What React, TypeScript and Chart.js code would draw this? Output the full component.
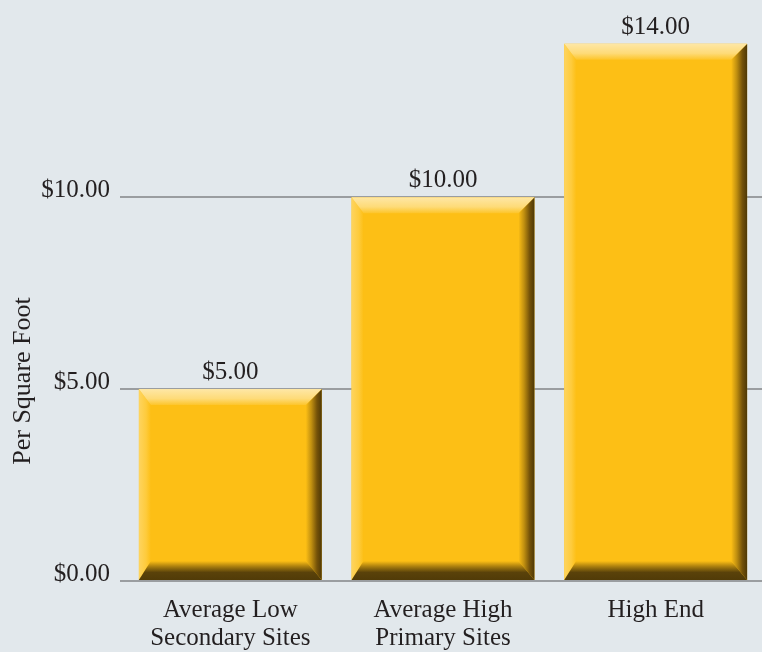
import React, { useEffect, useRef } from 'react';
import { Chart, registerables } from 'chart.js';

Chart.register(...registerables);

const categories: string[][] = [
  ['Average Low', 'Secondary Sites'],
  ['Average High', 'Primary Sites'],
  ['High End'],
];
const values: number[] = [5, 10, 14];
const yTickValues: number[] = [0, 5, 10];
const yTitle = 'Per Square Foot';

const FONT = '"Liberation Serif", "Times New Roman", serif';
const TEXT = '#231f20';
const BG = '#e2e8ec';
const GOLD = '#fdbf15';
const GRID = '#9a9da0';

const fmt = (v: number) => '$' + v.toFixed(2);

const bevelPlugin = {
  id: 'bevel',
  afterDatasetsDraw(chart: any) {
    const ctx: CanvasRenderingContext2D = chart.ctx;
    const meta = chart.getDatasetMeta(0);
    meta.data.forEach((el: any, i: number) => {
      const { x, y, base, width } = el.getProps(['x', 'y', 'base', 'width'], true);
      const x0 = x - width / 2;
      const x1 = x + width / 2;
      const bl = 12, br = 16, bt = 16, bb = 19;
      ctx.save();
      // left
      let g = ctx.createLinearGradient(x0, 0, x0 + bl, 0);
      g.addColorStop(0, '#fed45f');
      g.addColorStop(0.6, '#fecb3c');
      g.addColorStop(1, GOLD);
      ctx.fillStyle = g;
      ctx.beginPath();
      ctx.moveTo(x0, y);
      ctx.lineTo(x0 + bl, y + bt);
      ctx.lineTo(x0 + bl, base - bb);
      ctx.lineTo(x0, base);
      ctx.closePath();
      ctx.fill();
      // right
      g = ctx.createLinearGradient(x1 - br, 0, x1, 0);
      g.addColorStop(0, GOLD);
      g.addColorStop(0.35, '#c08f10');
      g.addColorStop(0.7, '#745209');
      g.addColorStop(1, '#4e3806');
      ctx.fillStyle = g;
      ctx.beginPath();
      ctx.moveTo(x1, y);
      ctx.lineTo(x1, base);
      ctx.lineTo(x1 - br, base - bb);
      ctx.lineTo(x1 - br, y + bt);
      ctx.closePath();
      ctx.fill();
      // bottom
      g = ctx.createLinearGradient(0, base - bb, 0, base);
      g.addColorStop(0, GOLD);
      g.addColorStop(0.3, '#a77c0e');
      g.addColorStop(0.6, '#5a420a');
      g.addColorStop(1, '#513b08');
      ctx.fillStyle = g;
      ctx.beginPath();
      ctx.moveTo(x0, base);
      ctx.lineTo(x1, base);
      ctx.lineTo(x1 - br, base - bb);
      ctx.lineTo(x0 + bl, base - bb);
      ctx.closePath();
      ctx.fill();
      // top
      g = ctx.createLinearGradient(0, y, 0, y + bt);
      g.addColorStop(0, '#fee7a6');
      g.addColorStop(0.6, '#fedb78');
      g.addColorStop(1, '#fdc52a');
      ctx.fillStyle = g;
      ctx.beginPath();
      ctx.moveTo(x0, y);
      ctx.lineTo(x1, y);
      ctx.lineTo(x1 - br, y + bt);
      ctx.lineTo(x0 + bl, y + bt);
      ctx.closePath();
      ctx.fill();
      // value label
      ctx.fillStyle = TEXT;
      ctx.font = `25px ${FONT}`;
      ctx.textAlign = 'center';
      ctx.textBaseline = 'alphabetic';
      ctx.fillText(fmt(values[i]), x, y - 10);
      ctx.restore();
    });
  },
  afterDraw(chart: any) {
    const ctx: CanvasRenderingContext2D = chart.ctx;
    ctx.save();
    ctx.translate(23, 381);
    ctx.rotate(-Math.PI / 2);
    ctx.fillStyle = TEXT;
    ctx.font = `26px ${FONT}`;
    ctx.textAlign = 'center';
    ctx.textBaseline = 'middle';
    ctx.fillText(yTitle, 0, 0);
    ctx.restore();
  },
};

export default function App() {
  const ref = useRef<HTMLCanvasElement>(null);
  useEffect(() => {
    document.body.style.margin = '0';
    document.body.style.background = BG;
    const chart = new Chart(ref.current as HTMLCanvasElement, {
      type: 'bar',
      data: {
        labels: categories as any,
        datasets: [
          {
            data: values,
            backgroundColor: GOLD,
            borderWidth: 0,
            barPercentage: 0.86,
            categoryPercentage: 1,
          },
        ],
      },
      options: {
        animation: false,
        responsive: false,
        devicePixelRatio: 1,
        layout: { padding: { top: 13, right: -4, bottom: 0, left: 0 } },
        plugins: { legend: { display: false }, tooltip: { enabled: false } },
        scales: {
          x: {
            grid: { display: false },
            border: { display: false },
            afterFit: (scale: any) => {
              scale.height = 71;
              scale.paddingLeft = 0;
              scale.paddingRight = 0;
            },
            ticks: {
              color: TEXT,
              font: { family: FONT, size: 25, lineHeight: 1.1 },
              padding: 8,
              maxRotation: 0,
              autoSkip: false,
            },
          },
          y: {
            min: 0,
            max: 14.8,
            afterBuildTicks: (scale: any) => {
              scale.ticks = yTickValues.map((v) => ({ value: v }));
            },
            afterFit: (scale: any) => {
              scale.width = 124;
              scale.paddingTop = 0;
              scale.paddingBottom = 0;
            },
            grid: { color: GRID, lineWidth: 2, tickLength: 4, drawTicks: true, tickColor: GRID },
            border: { display: false },
            ticks: {
              color: TEXT,
              font: { family: FONT, size: 25 },
              padding: 10,
              labelOffset: -7,
              callback: (v: any) => fmt(Number(v)),
            },
          },
        },
      },
      plugins: [bevelPlugin],
    });
    return () => chart.destroy();
  }, []);
  return (
    <div style={{ width: 762, height: 652, background: BG, overflow: 'hidden' }}>
      <canvas ref={ref} width={762} height={652} />
    </div>
  );
}
